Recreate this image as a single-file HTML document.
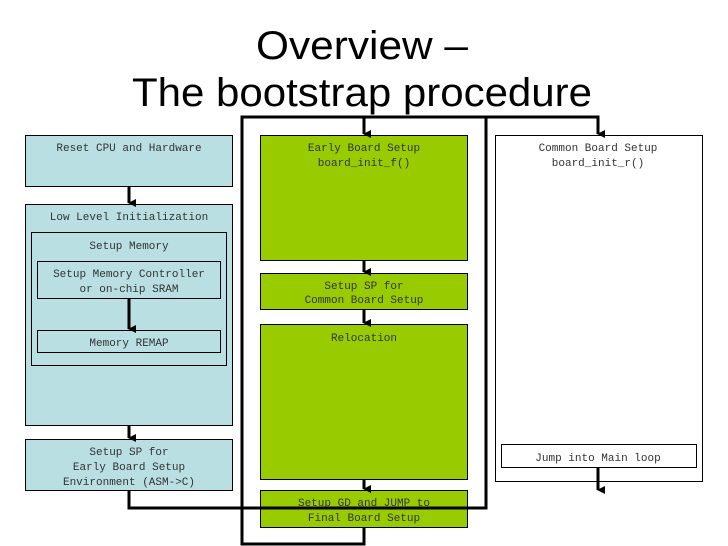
<!DOCTYPE html>
<html><head><meta charset="utf-8"><style>
html,body{margin:0;padding:0;background:#fff;}
svg{display:block;}
.t{font-family:"Liberation Mono",monospace;font-size:11px;fill:#333;text-anchor:middle;}
.h{font-family:"Liberation Sans",sans-serif;font-size:40px;fill:#000;text-anchor:middle;}
</style></head><body>
<svg width="728" height="546" viewBox="0 0 728 546" xmlns="http://www.w3.org/2000/svg">
<defs><marker id="a" markerWidth="8" markerHeight="8" refX="4" refY="7" orient="auto" markerUnits="userSpaceOnUse"><path d="M0,0 L8,0 L4,8 Z" fill="#000"/></marker></defs>
<text class="h" x="362" y="59" textLength="212" lengthAdjust="spacingAndGlyphs">Overview –</text>
<text class="h" x="362" y="106" textLength="460" lengthAdjust="spacingAndGlyphs">The bootstrap procedure</text>

<!-- left column -->
<rect x="25.5" y="135.5" width="207" height="51" fill="#b9dfe3" stroke="#000"/>
<text class="t" x="129" y="151">Reset CPU and Hardware</text>
<rect x="25.5" y="204.5" width="207" height="221" fill="#b9dfe3" stroke="#000"/>
<text class="t" x="129" y="220">Low Level Initialization</text>
<rect x="31.5" y="232.5" width="195" height="133" fill="#b9dfe3" stroke="#000"/>
<text class="t" x="129" y="249">Setup Memory</text>
<rect x="37.5" y="261.5" width="183" height="37" fill="#b9dfe3" stroke="#000"/>
<text class="t" x="129" y="277">Setup Memory Controller</text>
<text class="t" x="129" y="292">or on-chip SRAM</text>
<rect x="37.5" y="330.5" width="183" height="22" fill="#b9dfe3" stroke="#000"/>
<text class="t" x="129" y="346">Memory REMAP</text>
<rect x="25.5" y="439.5" width="207" height="51" fill="#b9dfe3" stroke="#000"/>
<text class="t" x="129" y="455">Setup SP for</text>
<text class="t" x="129" y="470">Early Board Setup</text>
<text class="t" x="129" y="485">Environment (ASM-&gt;C)</text>

<!-- green column -->
<rect x="260.5" y="135.5" width="207" height="125" fill="#99cc00" stroke="#000"/>
<text class="t" x="364" y="151">Early Board Setup</text>
<text class="t" x="364" y="166">board_init_f()</text>
<rect x="260.5" y="273.5" width="207" height="36" fill="#99cc00" stroke="#000"/>
<text class="t" x="364" y="289">Setup SP for</text>
<text class="t" x="364" y="303">Common Board Setup</text>
<rect x="260.5" y="324.5" width="207" height="155" fill="#99cc00" stroke="#000"/>
<text class="t" x="364" y="341">Relocation</text>
<rect x="260.5" y="490.5" width="207" height="37" fill="#99cc00" stroke="#000"/>
<text class="t" x="364" y="506">Setup GD and JUMP to</text>
<text class="t" x="364" y="521">Final Board Setup</text>

<!-- right column -->
<rect x="495.5" y="135.5" width="207" height="346" fill="#fff" stroke="#000"/>
<text class="t" x="598" y="151">Common Board Setup</text>
<text class="t" x="598" y="166">board_init_r()</text>
<rect x="501.5" y="444.5" width="195" height="23" fill="#fff" stroke="#000"/>
<text class="t" x="598" y="461">Jump into Main loop</text>

<!-- connectors -->
<g stroke="#000" stroke-width="3" fill="none">
<line x1="129" y1="186" x2="129" y2="203" marker-end="url(#a)"/>
<line x1="129" y1="298" x2="129" y2="329" marker-end="url(#a)"/>
<line x1="129" y1="425" x2="129" y2="438" marker-end="url(#a)"/>
<line x1="364" y1="260" x2="364" y2="272" marker-end="url(#a)"/>
<line x1="364" y1="309" x2="364" y2="323" marker-end="url(#a)"/>
<line x1="364" y1="479" x2="364" y2="489" marker-end="url(#a)"/>
<polyline points="129,490 129,508 486,508 486,117 364,117 364,134" marker-end="url(#a)"/>
<polyline points="364,527 364,544 242,544 242,117 598,117 598,134" marker-end="url(#a)"/>
<line x1="598" y1="467" x2="598" y2="490" marker-end="url(#a)"/>
</g>
</svg>
</body></html>
